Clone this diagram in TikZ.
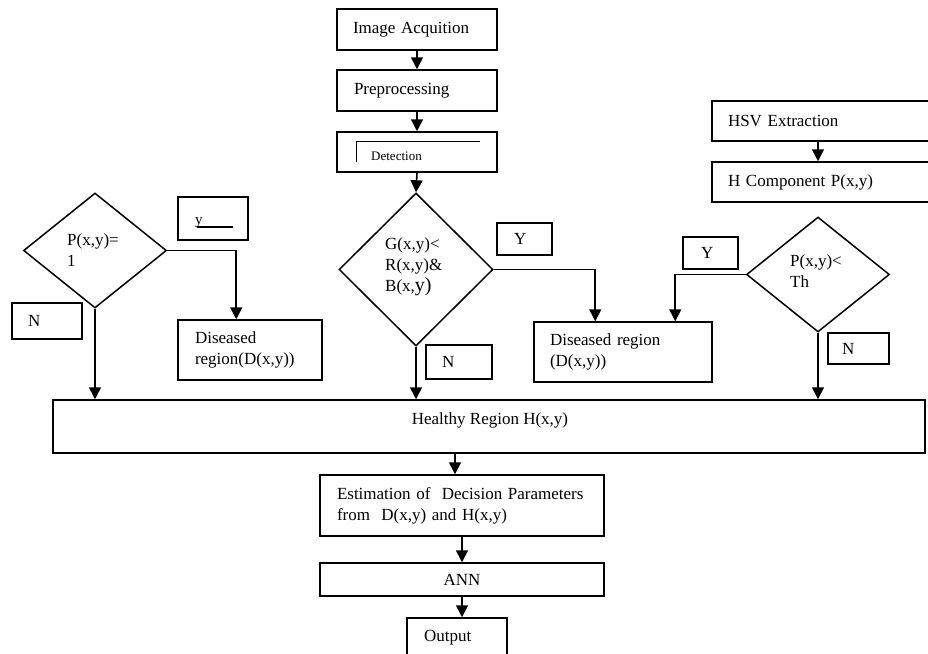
\documentclass[tikz,border=0pt]{standalone}
\usepackage{fontspec}
\setmainfont{Liberation Serif}
\usetikzlibrary{arrows.meta,shapes.geometric,calc}
\begin{document}
\begin{tikzpicture}[x=1pt,y=-1pt,
  every node/.style={font=\fontsize{17}{21}\selectfont},
  box/.style={draw, line width=1.5pt, rectangle, align=left, inner ysep=0pt},
  dia/.style={draw, line width=1.5pt, diamond, inner sep=0pt},
  lab/.style={align=left, inner sep=0pt, anchor=west},
  conn/.style={line width=1.6pt},
  arr/.style={conn, -{Triangle[length=12pt,width=12pt]}}]
\useasboundingbox (0,0) rectangle (928,653);

% main column
\node[box, minimum width=160pt, minimum height=41pt, inner xsep=16pt, text width=128pt] (acq) at (417,29.5) {Image Acquition};
\node[box, minimum width=160pt, minimum height=41pt, inner xsep=17pt, text width=126pt] (pre) at (417,90.5) {Preprocessing};
\node[box, minimum width=160pt, minimum height=40pt] (det) at (417,152) {};
\node[lab, font=\fontsize{13}{15}\selectfont] (dett) at (371,156) {Detection};
\draw[line width=1.1pt] ($(det.north west)+(20,31)$) -- ($(det.north west)+(20,10)$) -- ($(det.north west)+(144,10)$);

\node[dia, minimum width=154pt, minimum height=153pt] (gd) at (416,269.5) {};
\node[lab] (gdt) at (385,267) {G(x,y)<\\R(x,y)\&\\B(x,{\fontsize{20}{21}\selectfont y)}};
\node[box, minimum width=55pt, minimum height=32pt, inner xsep=17pt, text width=21pt] (gy) at (524.5,239) {Y};
\node[box, minimum width=66pt, minimum height=34pt, inner xsep=16pt, text width=34pt] (gn) at (459,362) {N};
\node[box, minimum width=178pt, minimum height=60pt, inner xsep=16pt, text width=146pt] (dm) at (623,352) {Diseased region\\(D(x,y))};

% left branch
\node[dia, minimum width=143pt, minimum height=115pt] (ld) at (95,250.5) {};
\node[lab] (ldt) at (67,250) {P(x,y)=\\1};
\node[box, minimum width=70pt, minimum height=43pt] (yb) at (213,218.5) {};
\node[anchor=base west, inner sep=0pt, font=\fontsize{15}{17}\selectfont] (ybt) at (195,224) {y};
\draw[line width=1.1pt] ($(ybt.base west)+(2,3)$) -- ($(ybt.base west)+(38,3)$);
\node[box, minimum width=70pt, minimum height=36pt, inner xsep=16pt, text width=38pt] (ln) at (47,321) {N};
\node[box, minimum width=144pt, minimum height=60pt, inner xsep=17pt, text width=110pt] (dl) at (250,350) {Diseased\\region(D(x,y))};

% right branch
\node[box, minimum width=223pt, minimum height=40pt, inner xsep=16pt, text width=191pt] (hsv) at (823.5,121) {HSV Extraction};
\node[box, minimum width=223pt, minimum height=40pt, inner xsep=16pt, text width=191pt] (hc) at (823.5,182) {H Component P(x,y)};
\node[dia, minimum width=143pt, minimum height=115pt] (td) at (818,274.5) {};
\node[lab] (tdt) at (790,271.5) {P(x,y)<\\Th};
\node[box, minimum width=55pt, minimum height=32pt, inner xsep=18pt, text width=19pt] (ty) at (710.5,253) {Y};
\node[box, minimum width=61pt, minimum height=31pt, inner xsep=14pt, text width=33pt] (tn) at (858.5,348.5) {N};

% bottom
\node[box, minimum width=872pt, minimum height=53pt] (hb) at (489,426.5) {};
\node[inner sep=0pt] (hbt) at (490,420) {Healthy Region H(x,y)};
\node[box, minimum width=284pt, minimum height=61pt, inner xsep=17pt, text width=250pt] (est) at (462,505.5) {Estimation of\ \ Decision Parameters\\from\ \ D(x,y) and H(x,y)};
\node[box, minimum width=284pt, minimum height=33pt, align=center, text width=250pt] (ann) at (462,579.5) {ANN};
\node[box, minimum width=100pt, minimum height=47pt] (out) at (457,641.5) {};
\node[lab] (outt) at (424,638) {Output};

% connectors
\draw[arr] (acq.south) -- (pre.north);
\draw[arr] (pre.south) -- (det.north);
\draw[arr] (det.south) -- (gd.north);
\coordinate (dmin1) at ($(dm.north west)+(62,0)$);
\coordinate (dmin2) at ($(dm.north west)+(142,0)$);
\coordinate (dlin) at ($(dl.north west)+(59,0)$);
\draw[arr] (gd.east) -| (dmin1);
\draw[arr] (td.west) -| (dmin2);
\draw[arr] (ld.east) -| (dlin);
\draw[arr] (gd.south) -- (gd.south |- hb.north);
\draw[arr] (ld.south) -- (ld.south |- hb.north);
\draw[arr] (td.south) -- (td.south |- hb.north);
\draw[arr] (hsv.south -| td.north) -- (hc.north -| td.north);
\coordinate (e1) at ($(est.north)+(-7,0)$);
\draw[arr] (e1 |- hb.south) -- (e1);
\draw[arr] (est.south) -- (ann.north);
\draw[arr] (ann.south) -- (ann.south |- out.north);
\end{tikzpicture}
\end{document}
